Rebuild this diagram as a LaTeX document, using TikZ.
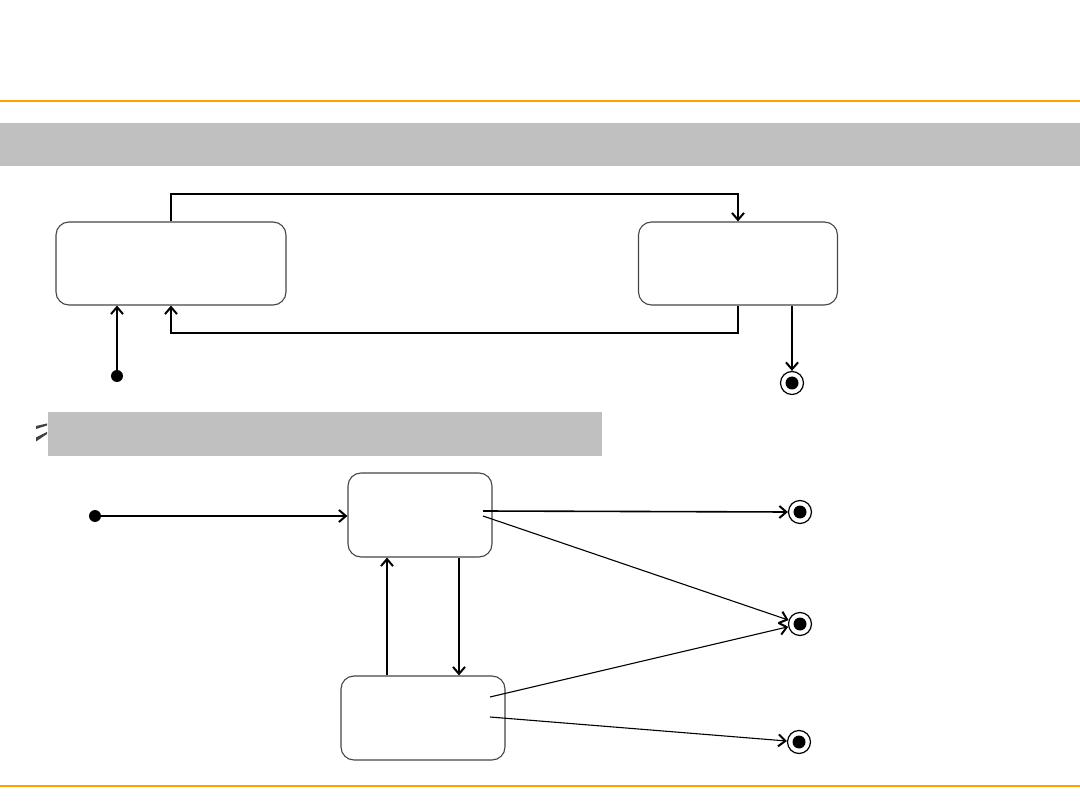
\documentclass[tikz,border=0pt]{standalone}
\usetikzlibrary{arrows.meta}
\definecolor{orangeline}{RGB}{255,160,0}
\definecolor{bargray}{RGB}{192,192,192}
\definecolor{boxedge}{RGB}{70,70,70}
\begin{document}
\begin{tikzpicture}[x=1pt,y=-1pt,
  statebox/.style={draw=boxedge,line width=1.1pt,rounded corners=13pt,fill=white,inner sep=0pt},
  initdot/.style={circle,fill=black,inner sep=0pt,minimum size=12pt},
  finaldot/.style={circle,draw=black,line width=1.2pt,fill=white,inner sep=0pt,minimum size=23pt,
    path picture={\fill[black] (path picture bounding box.center) circle (6.5);}},
  edge/.style={draw=black,line width=1.6pt,-{Straight Barb[length=7pt,width=12pt,line width=2pt]}},
  thinedge/.style={draw=black,line width=1.1pt,-{Straight Barb[length=7pt,width=12pt,line width=2pt]}},
  bar/.style={fill=bargray,draw=none},
  rule/.style={draw=orangeline,line width=2pt}
]
\useasboundingbox (0,0) rectangle (1080,810);
% header rules and bars
\path[rule] (0,101) -- (1080,101);
\path[rule] (0,785.5) -- (1080,785.5);
\path[bar] (0,123) rectangle (1080,166);
\path[bar] (48,412) rectangle (602,456);
% small glyph left of the second bar
\fill[black!75] (36,426) -- (36,429) -- (47,425.5) -- (47,423.5) -- cycle;
\fill[black!75] (36,437.5) -- (36,441.5) -- (47,434) -- (47,432) -- cycle;
% top diagram
\node[statebox,minimum width=230pt,minimum height=83pt] (A) at (171,263.5) {};
\node[statebox,minimum width=199pt,minimum height=83pt] (B) at (738,263.5) {};
\node[initdot] (i1) at (117,376) {};
\node[finaldot] (f1) at (792,383) {};
\draw[edge] (A.north) -- (171,194) -| (B.north);
\draw[edge] (B.south) -- (738,333) -| (A.south);
\draw[edge] (i1) -- (i1 |- A.south);
\draw[edge] (f1 |- B.south) -- (f1);
% bottom diagram
\node[statebox,minimum width=144pt,minimum height=84pt] (C) at (420,515) {};
\node[statebox,minimum width=164pt,minimum height=84pt] (D) at (423,718) {};
\node[initdot] (i2) at (95,516) {};
\node[finaldot] (f2) at (800,512) {};
\node[finaldot] (f3) at (800,624) {};
\node[finaldot] (f4) at (799,742) {};
\coordinate (c1) at (483,511);
\coordinate (c2) at (483,516);
\coordinate (d1) at (490,697);
\coordinate (d2) at (490,717);
\draw[edge] (i2) -- (C.west |- i2);
\draw[edge] (C.south -| 459,0) -- (D.north -| 459,0);
\draw[edge] (D.north -| 387,0) -- (C.south -| 387,0);
\draw[edge] (c1) -- (f2.west);
\draw[thinedge] (c2) -- (f3);
\draw[thinedge] (d1) -- (f3);
\draw[thinedge] (d2) -- (f4);
\end{tikzpicture}
\end{document}
